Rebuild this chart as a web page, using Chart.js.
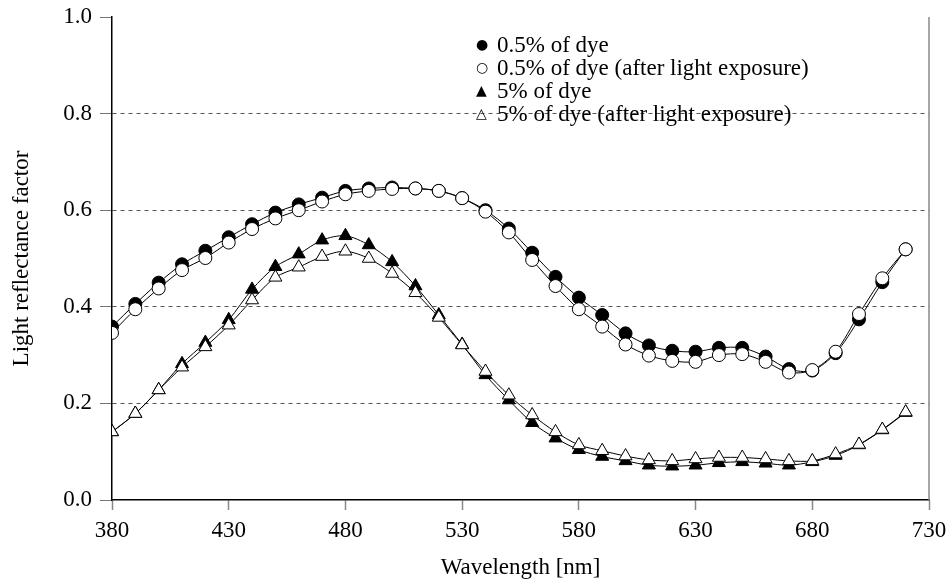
<!DOCTYPE html>
<html>
<head>
<meta charset="utf-8">
<script src="https://cdn.jsdelivr.net/npm/chart.js@4.4.1/dist/chart.umd.min.js"></script>
<style>
    html, body { margin: 0; padding: 0; background: #fff; }
    #wrap { position: relative; width: 949px; height: 582px; }
    #legend {
        position: absolute; left: 476px; top: 33px;
        font-family: "Liberation Serif", "DejaVu Serif", serif; font-size: 23px; color: #000;
    }
    #legend div { height: 23px; line-height: 23px; white-space: nowrap; }
    #legend .mark { display: inline-block; width: 21px; font-size: 14px; font-family: "DejaVu Sans", sans-serif; vertical-align: top; }
</style>
</head>
<body>
<div id="wrap">
    <canvas id="chart" width="949" height="582"></canvas>
    <div id="legend"></div>
</div>
<script>
// ========================================
// DATA
// ========================================
const wavelengths = [380, 390, 400, 410, 420, 430, 440, 450, 460, 470, 480, 490, 500, 510, 520, 530, 540,
    550, 560, 570, 580, 590, 600, 610, 620, 630, 640, 650, 660, 670, 680, 690, 700, 710, 720];

const dye05 = [0.359, 0.406, 0.450, 0.488, 0.516, 0.544, 0.571, 0.595, 0.612, 0.626, 0.640, 0.645, 0.647,
    0.645, 0.640, 0.625, 0.600, 0.562, 0.512, 0.462, 0.419, 0.383, 0.345, 0.320, 0.309, 0.307, 0.315,
    0.315, 0.297, 0.271, 0.268, 0.304, 0.374, 0.451, 0.519];

const dye05Exposed = [0.346, 0.395, 0.438, 0.476, 0.501, 0.533, 0.561, 0.583, 0.600, 0.618, 0.633, 0.640,
    0.644, 0.645, 0.640, 0.625, 0.597, 0.554, 0.497, 0.443, 0.395, 0.359, 0.322, 0.299, 0.288, 0.286,
    0.300, 0.302, 0.286, 0.264, 0.269, 0.307, 0.385, 0.459, 0.519];

const dye5 = [0.141, 0.179, 0.228, 0.282, 0.326, 0.373, 0.436, 0.483, 0.509, 0.538, 0.547, 0.528, 0.493,
    0.443, 0.383, 0.322, 0.259, 0.207, 0.160, 0.128, 0.104, 0.090, 0.081, 0.072, 0.070, 0.072, 0.077,
    0.079, 0.076, 0.072, 0.079, 0.092, 0.114, 0.145, 0.181];

const dye5Exposed = [0.141, 0.179, 0.228, 0.275, 0.317, 0.362, 0.414, 0.461, 0.482, 0.504, 0.515, 0.500,
    0.469, 0.429, 0.378, 0.321, 0.266, 0.217, 0.176, 0.141, 0.114, 0.102, 0.091, 0.083, 0.081, 0.085,
    0.088, 0.088, 0.085, 0.081, 0.081, 0.095, 0.115, 0.146, 0.182];

const seriesLabels = ['0.5% of dye', '0.5% of dye (after light exposure)', '5% of dye', '5% of dye (after light exposure)'];
const legendGlyphs = ['\u25CF', '\u25CB', '\u25B2', '\u25B3'];

const xTicks = [380, 430, 480, 530, 580, 630, 680, 730];
const yTicks = [0, 0.2, 0.4, 0.6, 0.8, 1.0];

// ========================================
// HELPERS
// ========================================
const FONT = '"Liberation Serif", "DejaVu Serif", serif';
const FONT_SIZE = 23;

function toPoints(values) {
    return values.map((v, i) => ({ x: wavelengths[i], y: v }));
}

function makeSeries(label, values, style, filled, order) {
    return {
        label: label,
        data: toPoints(values),
        borderColor: '#000',
        borderWidth: 1,
        pointStyle: style,
        pointRadius: style === 'circle' ? 6.5 : 7.5,
        pointBorderWidth: 1,
        pointBackgroundColor: filled ? '#000' : '#fff',
        pointBorderColor: '#000',
        tension: 0.3,
        fill: false,
        order: order
    };
}

// right frame line (the reference has a grey border on the right only)
const rightFrame = {
    id: 'rightFrame',
    afterDraw(chart) {
        const { ctx, chartArea } = chart;
        ctx.save();
        ctx.strokeStyle = '#888';
        ctx.lineWidth = 1.5;
        ctx.beginPath();
        ctx.moveTo(chartArea.right, chartArea.top);
        ctx.lineTo(chartArea.right, chartArea.bottom);
        ctx.stroke();
        ctx.restore();
    }
};

// ========================================
// CHART
// ========================================
const chart = new Chart(document.getElementById('chart'), {
    type: 'line',
    data: {
        datasets: [
            makeSeries(seriesLabels[0], dye05, 'circle', true, 4),
            makeSeries(seriesLabels[1], dye05Exposed, 'circle', false, 3),
            makeSeries(seriesLabels[2], dye5, 'triangle', true, 2),
            makeSeries(seriesLabels[3], dye5Exposed, 'triangle', false, 1)
        ]
    },
    options: {
        responsive: false,
        animation: false,
        layout: { padding: { top: 17, right: 20, left: 0, bottom: 0 } },
        plugins: {
            legend: { display: false },
            tooltip: { enabled: false }
        },
        scales: {
            x: {
                type: 'linear',
                min: xTicks[0],
                max: xTicks[xTicks.length - 1],
                afterBuildTicks: s => { s.ticks = xTicks.map(v => ({ value: v })); },
                afterFit: s => { s.height = 82; s.paddingLeft = 0; s.paddingRight = 0; },
                ticks: { color: '#000', padding: 7, font: { family: FONT, size: FONT_SIZE } },
                grid: { drawOnChartArea: false, tickLength: 10, tickColor: '#888', tickWidth: 1.5 },
                border: { color: '#000', width: 1.5 },
                title: {
                    display: true, text: 'Wavelength [nm]', color: '#000',
                    font: { family: FONT, size: FONT_SIZE }, padding: { top: 0, bottom: 0 }
                }
            },
            y: {
                min: 0,
                max: 1,
                afterBuildTicks: s => { s.ticks = yTicks.map(v => ({ value: v })); },
                afterFit: s => { s.width = 112; s.paddingTop = 0; s.paddingBottom = 0; },
                ticks: {
                    color: '#000', padding: 8, font: { family: FONT, size: FONT_SIZE },
                    callback: v => v.toFixed(1)
                },
                grid: {
                    color: c => (c.tick && c.tick.value > 0 && c.tick.value < 1) ? '#555' : 'rgba(0,0,0,0)',
                    tickColor: '#777',
                    tickLength: 12,
                    lineWidth: 1
                },
                border: { color: '#000', width: 1.5, dash: [4, 4] },
                title: {
                    display: true, text: 'Light reflectance factor', color: '#000',
                    font: { family: FONT, size: FONT_SIZE }, padding: { top: 8, bottom: 0 }
                }
            }
        }
    },
    plugins: [rightFrame]
});

// ========================================
// LEGEND (html, inside the plot)
// ========================================
const legendBox = document.getElementById('legend');
seriesLabels.forEach((label, i) => {
    const row = document.createElement('div');
    row.innerHTML = `<span class="mark">${legendGlyphs[i]}</span>${label}`;
    legendBox.appendChild(row);
});
</script>
</body>
</html>
